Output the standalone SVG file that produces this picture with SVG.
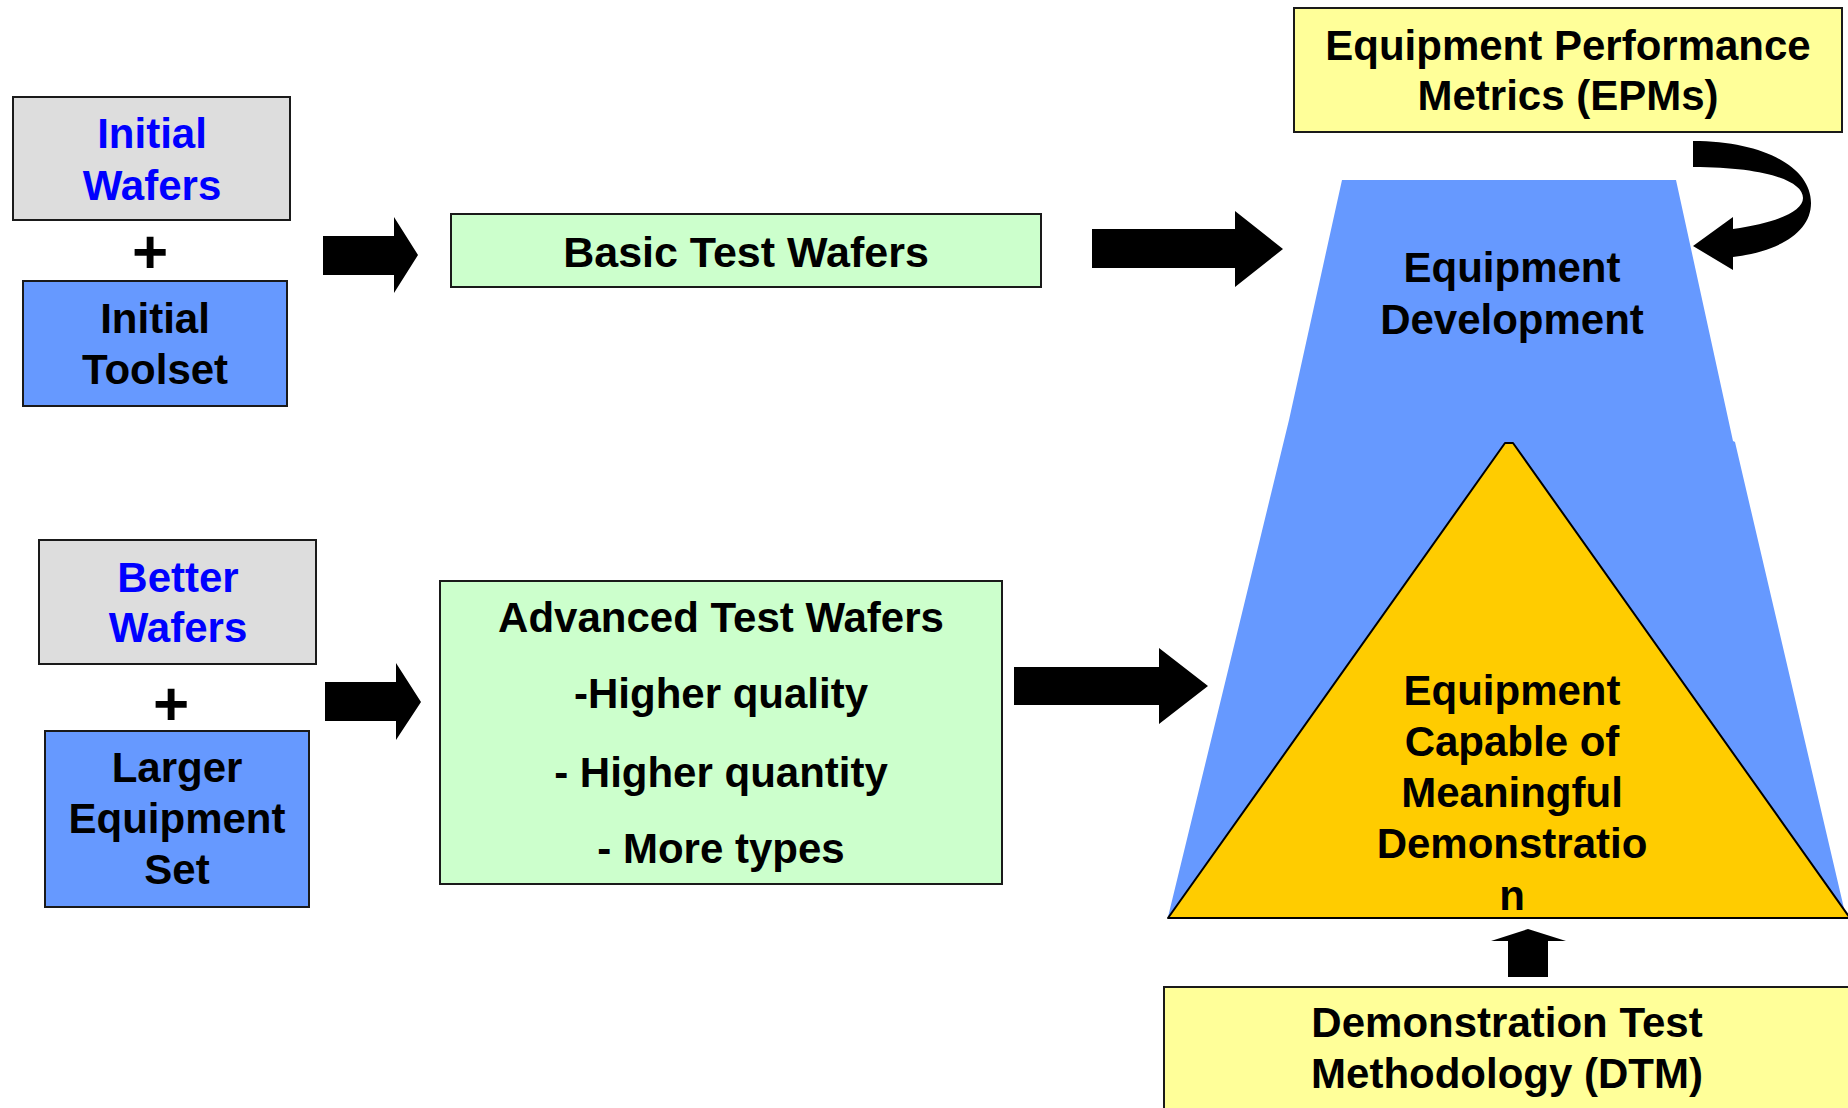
<svg xmlns="http://www.w3.org/2000/svg" width="1848" height="1108" viewBox="0 0 1848 1108">
<style>
text{font-family:"Liberation Sans",Arial,Helvetica,sans-serif;font-weight:bold;font-size:42px;text-anchor:middle;fill:#000}
.blue{fill:#0000FF}
.plus{font-size:62px}
.box{stroke:#1a1a1a;stroke-width:2}
.gray{fill:#DDDDDD}
.bl{fill:#6699FF}
.gr{fill:#CCFFCC}
.ye{fill:#FFFF99}
.arr{fill:#000}
</style>
<rect width="1848" height="1108" fill="#fff"/>
<g id="equipment-development">
<polygon points="1342,180 1676,180 1733,441 1735,442 1846,917 1168,917 1289,420" fill="#6699FF"/>
<text x="1512" y="282">Equipment</text>
<text x="1512" y="334">Development</text>
</g>
<g id="capable-demonstration">
<polygon points="1505,443 1513,443 1850,918 1168,918" fill="#FFCC00" stroke="#000" stroke-width="2" stroke-linejoin="round"/>
<text x="1512" y="705">Equipment</text>
<text x="1512" y="756">Capable of</text>
<text x="1512" y="807">Meaningful</text>
<text x="1512" y="858">Demonstratio</text>
<text x="1512" y="910">n</text>
</g>
<g id="initial-wafers">
<rect class="box gray" x="13" y="97" width="277" height="123"/>
<text class="blue" x="152" y="148">Initial</text>
<text class="blue" x="152" y="200">Wafers</text>
</g>
<g id="plus-1"><text class="plus" x="150" y="273">+</text></g>
<g id="initial-toolset">
<rect class="box bl" x="23" y="281" width="264" height="125"/>
<text x="155" y="333">Initial</text>
<text x="155" y="384">Toolset</text>
</g>
<g id="basic-test-wafers">
<rect class="box gr" x="451" y="214" width="590" height="73"/>
<text x="746" y="267" style="font-size:43px">Basic Test Wafers</text>
</g>
<g id="better-wafers">
<rect class="box gray" x="39" y="540" width="277" height="124"/>
<text class="blue" x="178" y="592">Better</text>
<text class="blue" x="178" y="642">Wafers</text>
</g>
<g id="plus-2"><text class="plus" x="171" y="725">+</text></g>
<g id="larger-equipment-set">
<rect class="box bl" x="45" y="731" width="264" height="176"/>
<text x="177" y="782">Larger</text>
<text x="177" y="833">Equipment</text>
<text x="177" y="884">Set</text>
</g>
<g id="advanced-test-wafers">
<rect class="box gr" x="440" y="581" width="562" height="303"/>
<text x="721" y="632">Advanced Test Wafers</text>
<text x="721" y="708">-Higher quality</text>
<text x="721" y="787">- Higher quantity</text>
<text x="721" y="863">- More types</text>
</g>
<g id="epms">
<rect class="box ye" x="1294" y="8" width="548" height="124"/>
<text x="1568" y="60">Equipment Performance</text>
<text x="1568" y="110">Metrics (EPMs)</text>
</g>
<g id="dtm">
<rect class="box ye" x="1164" y="987" width="700" height="200"/>
<text x="1507" y="1037">Demonstration Test</text>
<text x="1507" y="1088">Methodology (DTM)</text>
</g>
<g id="connectors">
<polygon class="arr" points="323,236 394,236 394,217 418,255 394,293 394,275 323,275"/>
<polygon class="arr" points="325,682 396,682 396,663 421,702 396,740 396,721 325,721"/>
<polygon class="arr" points="1014,667 1159,667 1159,648 1208,686 1159,724 1159,705 1014,705"/>
<polygon class="arr" points="1092,229 1235,229 1235,211 1283,249 1235,287 1235,268 1092,268"/>
<polygon class="arr" points="1508,977 1508,941 1491,941 1528,929 1566,941 1548,941 1548,977"/>
<path class="arr" d="M1693,141 C1765,141 1811,168 1811,203 C1811,232 1780,251 1733,257 L1733,270 L1693,246 L1733,217 L1733,229 C1775,223 1803,212 1803,198 C1803,180 1762,167 1693,167 Z"/>
</g>
</svg>
